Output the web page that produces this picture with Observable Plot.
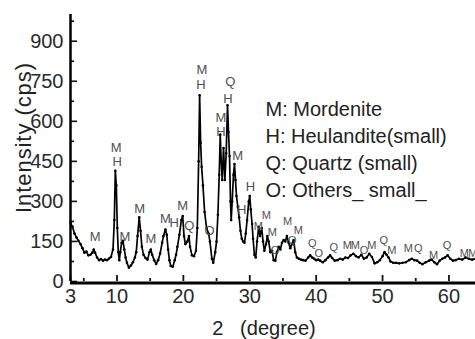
<!DOCTYPE html>
<html>
<head>
<meta charset="utf-8">
<script src="https://cdn.jsdelivr.net/npm/d3@7"></script>
<script src="https://cdn.jsdelivr.net/npm/@observablehq/plot@0.6"></script>
<style>
  html, body { margin: 0; padding: 0; background: #fff; }
  #chart svg { display: block; }
</style>
</head>
<body>
<div id="chart"></div>
<script>
// 2-theta (degree) and intensity (cps)
const thetaDeg = [3.0,3.3,3.6,3.9,4.2,4.5,4.8,5.1,5.4,5.7,6.0,6.3,6.5,6.7,7.0,7.3,7.6,7.9,8.2,8.5,8.8,9.1,9.4,9.6,9.75,9.9,10.05,10.2,10.35,10.5,10.7,10.9,11.1,11.3,11.5,11.8,12.1,12.4,12.7,12.9,13.1,13.35,13.55,13.75,14.0,14.3,14.6,14.9,15.1,15.3,15.6,15.9,16.2,16.5,16.8,17.0,17.3,17.5,17.7,17.9,18.1,18.4,18.7,18.9,19.1,19.4,19.7,19.9,20.1,20.3,20.6,20.85,21.0,21.3,21.6,21.9,22.1,22.3,22.45,22.6,22.75,22.95,23.2,23.5,23.8,24.0,24.3,24.5,24.8,25.0,25.2,25.4,25.55,25.7,25.85,26.05,26.25,26.45,26.65,26.8,26.95,27.1,27.2,27.35,27.55,27.7,27.85,28.0,28.2,28.4,28.6,28.8,29.0,29.2,29.4,29.6,29.85,30.0,30.15,30.35,30.5,30.7,30.9,31.1,31.35,31.55,31.8,32.0,32.2,32.45,32.65,32.85,33.1,33.35,33.6,33.85,34.1,34.35,34.6,34.85,35.1,35.35,35.6,35.85,36.1,36.35,36.6,36.85,37.1,37.4,37.7,38.0,38.4,38.8,39.1,39.4,39.7,40.0,40.3,40.6,41.0,41.4,41.8,42.1,42.4,42.8,43.2,43.6,44.0,44.4,44.8,45.2,45.6,46.0,46.4,46.8,47.2,47.6,48.0,48.4,48.8,49.2,49.6,50.0,50.3,50.6,50.9,51.2,51.6,52.0,52.5,53.0,53.5,54.0,54.4,54.8,55.2,55.6,56.0,56.5,57.0,57.4,57.8,58.2,58.6,59.0,59.4,59.8,60.2,60.6,61.0,61.5,62.0,62.5,63.0,63.5,64.0];
const intensity = [220,205,180,165,152,140,125,108,112,98,100,108,120,108,90,80,84,78,82,80,86,92,120,230,415,360,200,110,80,110,145,152,120,90,70,52,60,72,90,110,170,240,190,130,100,88,82,110,120,100,80,66,80,105,145,170,195,175,120,80,58,55,80,100,130,175,230,245,170,140,150,170,130,98,95,115,200,450,697,520,430,360,260,200,180,150,85,70,110,150,250,400,550,450,380,500,380,480,660,560,470,300,230,300,400,440,380,320,280,240,190,160,150,145,180,230,300,320,270,215,160,100,90,150,205,170,200,150,115,140,170,150,110,115,80,78,110,130,120,145,155,150,170,145,125,140,155,110,90,85,82,80,78,90,98,90,85,80,82,78,72,80,90,98,88,78,80,85,82,90,88,98,104,95,90,100,85,90,104,92,68,72,80,95,110,100,90,75,70,70,68,70,72,80,85,80,78,70,65,72,78,82,72,65,78,85,90,98,85,78,80,85,82,90,85,82,85];

// phase labels over the peaks
const labelTheta = [6.7,9.88,10.03,11.2,13.4,15.1,17.3,18.6,19.9,20.9,22.8,22.65,23.95,25.67,25.67,27.07,26.7,28.17,28.8,30.09,31.3,32.5,33.4,33.8,35.7,36.4,37.3,39.4,40.4,42.65,44.7,45.9,47.2,48.4,50.2,51.4,53.9,55.4,57.7,59.7,62.3,63.6];
const labelIntensity = [169,502,450,169,273,160,235,220,282,210,791,735,191,612,560,747,685,469,268,356,206,247,184,116,225,154,191,141,104,129,135,135,116,135,154,116,123,123,97,135,104,104];
const labelText = ["M","M","H","M","M","M","M","H","M","Q","M","H","O","M","H","Q","H","M","H","H","M","M","M","O","M","Q","M","Q","O","Q","M","M","O","M","Q","M","M","Q","M","Q","M","M"];

const xTicks = [3,10,20,30,40,50,60];
const xMinorTicks = [5,15,25,35,45,55];
const yTicks = [0,150,300,450,600,750,900];
const yMinorTicks = [75,225,375,525,675,825,975];

const legendLines = ["M: Mordenite","H: Heulandite(small)","Q: Quartz (small)","O: Others_ small_"];
const xTitle = "2\u00a0\u00a0\u00a0(degree)";
const yTitle = "Intensity (cps)";

const pattern = thetaDeg.map((t, i) => ({theta: t, cps: intensity[i]}));
const labels = labelTheta.map((t, i) => ({theta: t, cps: labelIntensity[i], text: labelText[i]}));

const font = "'Liberation Sans', Arial, sans-serif";

const chart = Plot.plot({
  width: 475,
  height: 339,
  marginLeft: 70,
  marginRight: 0,
  marginTop: 14,
  marginBottom: 58,
  style: {fontFamily: font, background: "#fff"},
  x: {domain: [3, 64]},
  y: {domain: [0, 1000]},
  marks: [
    Plot.axisY(yTicks, {tickSize: -7, tickPadding: 14, strokeWidth: 1.6, fontSize: 20, fill: "#2a2a2a", stroke: "#111", label: null}),
    Plot.axisY(yMinorTicks, {tickSize: -4, strokeWidth: 1.6, stroke: "#111", fill: "none", label: null}),
    Plot.axisX(xTicks, {tickSize: -6, tickPadding: 13, strokeWidth: 1.8, fontSize: 20, fill: "#2a2a2a", stroke: "#111", label: null}),
    Plot.axisX(xMinorTicks, {tickSize: -3, strokeWidth: 1.8, stroke: "#111", fill: "none", label: null}),
    Plot.ruleX([3], {strokeWidth: 2.5, stroke: "#000"}),
    Plot.ruleY([0], {strokeWidth: 2.8, dy: 1.5, stroke: "#000"}),
    Plot.line(pattern, {x: "theta", y: "cps", stroke: "#000", strokeWidth: 1.7, curve: "linear"}),
    Plot.dot(pattern, {x: "theta", y: "cps", r: 1.3, fill: "#000", stroke: "none"}),
    Plot.text(labels.filter(d => d.theta <= 31), {x: "theta", y: "cps", text: "text", fontSize: 13, fill: "#505050"}),
    Plot.text(labels.filter(d => d.theta > 31), {x: "theta", y: "cps", text: "text", fontSize: 11, fill: "#505050"}),
    Plot.text([legendLines.join("\n")], {frameAnchor: "top-left", dx: 195, dy: 83, lineAnchor: "top", textAnchor: "start", lineHeight: 1.335, fontSize: 20, fill: "#222"}),
    Plot.text([xTitle], {frameAnchor: "bottom", textAnchor: "middle", lineAnchor: "middle", dx: -9, dy: 47, fontSize: 20, fill: "#222"}),
    Plot.text([yTitle], {frameAnchor: "left", textAnchor: "middle", lineAnchor: "middle", rotate: -90, dx: -47, dy: -10, fontSize: 22, fill: "#222"})
  ]
});
// stretch the rotated axis title to the length it has in the figure
d3.select(chart).selectAll("text")
  .filter(function() { return this.textContent === yTitle; })
  .attr("textLength", 150)
  .attr("lengthAdjust", "spacing");
document.getElementById("chart").appendChild(chart);
</script>
</body>
</html>
